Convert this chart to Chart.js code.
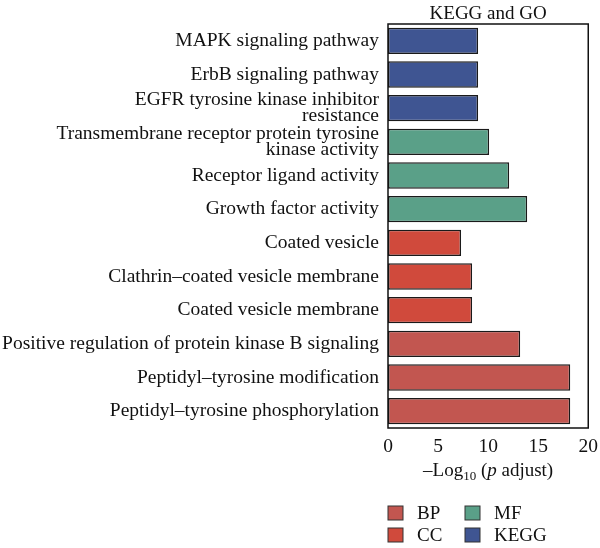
<!DOCTYPE html>
<html>
<head>
<meta charset="utf-8">
<script src="https://cdn.jsdelivr.net/npm/chart.js@4"></script>
<style>
  html, body { margin: 0; padding: 0; background: #fff; }
  #wrap { width: 600px; height: 548px; position: relative; }
</style>
</head>
<body>
<div id="wrap"><canvas id="myChart" width="600" height="548"></canvas></div>
<script>
/* DATA */
var terms = [
  "MAPK signaling pathway",
  "ErbB signaling pathway",
  ["EGFR tyrosine kinase inhibitor", "resistance"],
  ["Transmembrane receptor protein tyrosine", "kinase activity"],
  "Receptor ligand activity",
  "Growth factor activity",
  "Coated vesicle",
  "Clathrin–coated vesicle membrane",
  "Coated vesicle membrane",
  "Positive regulation of protein kinase B signaling",
  "Peptidyl–tyrosine modification",
  "Peptidyl–tyrosine phosphorylation"
];
var logP = [9.0, 9.0, 9.0, 10.1, 12.1, 13.9, 7.3, 8.4, 8.4, 13.2, 18.2, 18.2];
var groups = ["KEGG", "KEGG", "KEGG", "MF", "MF", "MF", "CC", "CC", "CC", "BP", "BP", "BP"];
var xTicks = [0, 5, 10, 15, 20];
var legendOrder = ["BP", "CC", "MF", "KEGG"];

var groupColors = { BP: "#c25650", CC: "#d04a3c", MF: "#5aa088", KEGG: "#3f5592" };
var FONT = "'Liberation Serif', 'DejaVu Serif', serif";
var FS = 19.5;

/* EXTRA TEXT, BOX AND LEGEND */
var extras = {
  id: "extras",
  afterDraw: function(chart) {
    var c = chart.ctx, a = chart.chartArea;
    c.save();
    // plot box
    c.strokeStyle = "#111";
    c.lineWidth = 1.5;
    c.strokeRect(a.left, a.top, a.right - a.left, a.bottom - a.top);

    var mid = (a.left + a.right) / 2;
    c.fillStyle = "#111";
    c.textBaseline = "alphabetic";

    // strip title
    c.font = "19px " + FONT;
    c.textAlign = "center";
    c.fillText("KEGG and GO", mid, 19);

    // x axis title: –Log10 (p adjust)
    var p1 = "–Log", sub = "10", p2 = " (", it = "p", p3 = " adjust)";
    var big = "19px " + FONT, small = "13px " + FONT, ital = "italic 19px " + FONT;
    c.font = big; var w1 = c.measureText(p1).width, w2 = c.measureText(p2).width, w3 = c.measureText(p3).width;
    c.font = small; var ws = c.measureText(sub).width;
    c.font = ital; var wi = c.measureText(it).width;
    var x = mid - (w1 + ws + w2 + wi + w3) / 2, y = 476;
    c.textAlign = "left";
    c.font = big; c.fillText(p1, x, y); x += w1;
    c.font = small; c.fillText(sub, x, y + 4); x += ws;
    c.font = big; c.fillText(p2, x, y); x += w2;
    c.font = ital; c.fillText(it, x, y); x += wi;
    c.font = big; c.fillText(p3, x, y);

    // legend, two columns
    c.font = "19px " + FONT;
    c.textBaseline = "middle";
    for (var i = 0; i < legendOrder.length; i++) {
      var col = Math.floor(i / 2), row = i % 2;
      var lx = 388 + col * 77, ly = 513 + row * 22;
      c.fillStyle = groupColors[legendOrder[i]];
      c.fillRect(lx, ly - 7, 15, 14);
      c.strokeStyle = "#333";
      c.lineWidth = 1;
      c.strokeRect(lx, ly - 7, 15, 14);
      c.fillStyle = "#111";
      c.fillText(legendOrder[i], lx + 29, ly + 1);
    }
    c.restore();
  }
};

var ctx = document.getElementById("myChart").getContext("2d");
var chart = new Chart(ctx, {
  type: "bar",
  data: {
    labels: terms,
    datasets: [{
      data: logP,
      backgroundColor: groups.map(function(g) { return groupColors[g]; }),
      borderColor: "#1a1a1a",
      borderWidth: 1.5,
      borderSkipped: false,
      categoryPercentage: 1,
      barPercentage: 0.78
    }]
  },
  options: {
    indexAxis: "y",
    responsive: false,
    animation: false,
    layout: { padding: { top: 24, right: 11, bottom: 90, left: 0 } },
    plugins: { legend: { display: false }, tooltip: { enabled: false } },
    scales: {
      x: {
        min: 0, max: 20,
        afterBuildTicks: function(s) { s.ticks = xTicks.map(function(v) { return { value: v }; }); },
        afterFit: function(s) { s.height = 30; },
        grid: { display: false, drawOnChartArea: false, drawTicks: true, tickLength: 5, color: "#111" },
        border: { display: false },
        ticks: { color: "#111", padding: 2, font: { family: FONT, size: FS } }
      },
      y: {
        afterFit: function(s) { s.width = 388; },
        grid: { display: false, drawOnChartArea: false, drawTicks: true, tickLength: 5, color: "#111" },
        border: { display: false },
        ticks: { color: "#111", padding: 4, autoSkip: false, font: { family: FONT, size: FS, lineHeight: "16px" } }
      }
    }
  },
  plugins: [extras]
});
</script>
</body>
</html>
